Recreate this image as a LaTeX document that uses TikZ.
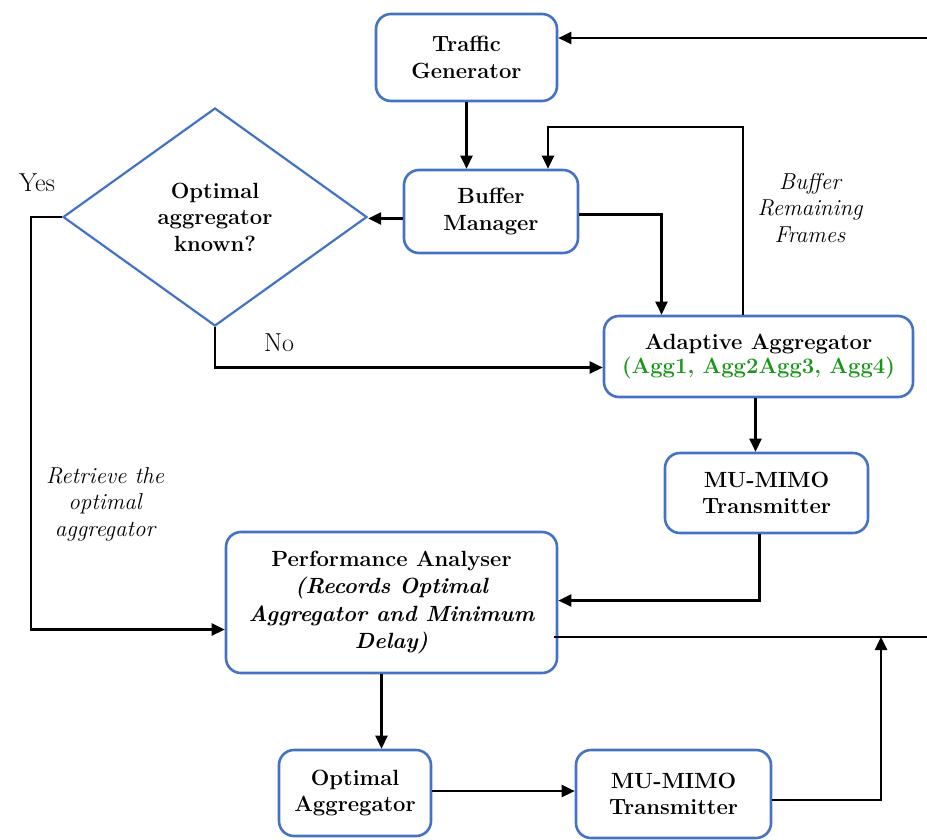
\documentclass[tikz,border=0pt]{standalone}
\usetikzlibrary{shapes.geometric,arrows.meta,calc}
\definecolor{boxblue}{RGB}{68,114,196}
\definecolor{agggreen}{RGB}{24,150,24}
\begin{document}
\begin{tikzpicture}[x=1pt,y=-1pt,
  box/.style={draw=boxblue,line width=2.6pt,rounded corners=15pt,align=center,
    font=\fontsize{22}{26.5}\selectfont\bfseries,inner sep=0pt},
  dec/.style={diamond,draw=boxblue,line width=2.2pt,align=center,inner sep=0pt,
    minimum width=304pt,minimum height=218pt,aspect=1.39,
    font=\fontsize{22}{26.5}\selectfont\bfseries},
  arr/.style={draw=black,line width=2.5pt,-{Triangle[length=13pt,width=12pt]}},
  lbl/.style={align=center,font=\fontsize{23}{26.5}\selectfont\itshape,inner sep=0pt},
  plain/.style={font=\fontsize{26}{28}\selectfont,inner sep=0pt}]
\useasboundingbox (0,0) rectangle (927,839);

% nodes
\node[box,minimum width=181pt,minimum height=87pt] (tg) at (466.5,57.5) {Traffic\\Generator};
\node[box,minimum width=174pt,minimum height=83pt] (bm) at (491,211.5) {Buffer\\Manager};
\node[dec] (dia) at (215,217) {Optimal\\aggregator\\known?};
\node[box,minimum width=309pt,minimum height=81pt] (aa) at (758.5,356.5)
  {Adaptive Aggregator\\[-3pt]\textcolor{agggreen}{(Agg1, Agg2Agg3, Agg4)}};
\node[box,minimum width=203pt,minimum height=80pt] (mu1) at (766.5,493) {MU-MIMO\\Transmitter};
\node[box,minimum width=331pt,minimum height=141pt,font=\fontsize{22}{27.3}\selectfont\bfseries] (pa) at (391.5,602.5)
  {Performance Analyser\\\itshape(Records Optimal\\\itshape Aggregator and Minimum\\\itshape Delay)};
\node[box,minimum width=152pt,minimum height=86pt] (oa) at (355,793) {Optimal\\Aggregator};
\node[box,minimum width=195pt,minimum height=88pt] (mu2) at (673.5,794) {MU-MIMO\\Transmitter};

% labels
\node[lbl] (lbuf) at (810,208) {Buffer\\Remaining\\Frames};
\node[lbl] (lret) at (105,504) {Retrieve the\\optimal\\aggregator};
\node[plain] (lyes) at (37,183) {Yes};
\node[plain] (lno) at (279,343) {No};

% helper coordinates
\coordinate (r1) at (743,127);
\coordinate (yl) at (31,218);
\coordinate (j) at (881,637);
\coordinate (rb) at (940,637);
\coordinate (rt) at (940,38);

% connectors
\draw[arr] (tg.south) -- (tg.south |- bm.north);
\draw[arr] ([yshift=-7pt]bm.west) -- ([yshift=-7pt]bm.west -| dia.east);
\draw[arr] ([yshift=-3pt]bm.east) -| ([xshift=-97pt]aa.north);
\draw[arr] (aa.north -| r1) -- (r1) -| ([xshift=57pt]bm.north);
\draw[arr] (dia.south) |- ([yshift=-11pt]aa.west);
\draw[arr] (dia.west) -- (dia.west -| yl) |- ([yshift=-27pt]pa.west);
\draw[arr] ([xshift=-3pt]aa.south) -- ([xshift=-3pt]aa.south |- mu1.north);
\draw[arr] ([xshift=-7pt]mu1.south) |- ([yshift=2pt]pa.east);
\draw[arr] ([xshift=-10pt]pa.south) -- ([xshift=-10pt]pa.south |- oa.north);
\draw[arr] ([yshift=2pt]oa.east) -- ([yshift=2pt]oa.east -| mu2.west);
\draw[arr] ([yshift=-6pt]mu2.east) -| (j);
\draw[arr] ([xshift=-4pt]pa.east |- rb) -- (rb) -- (rt) -- ([yshift=19.5pt]tg.east);
\end{tikzpicture}
\end{document}
